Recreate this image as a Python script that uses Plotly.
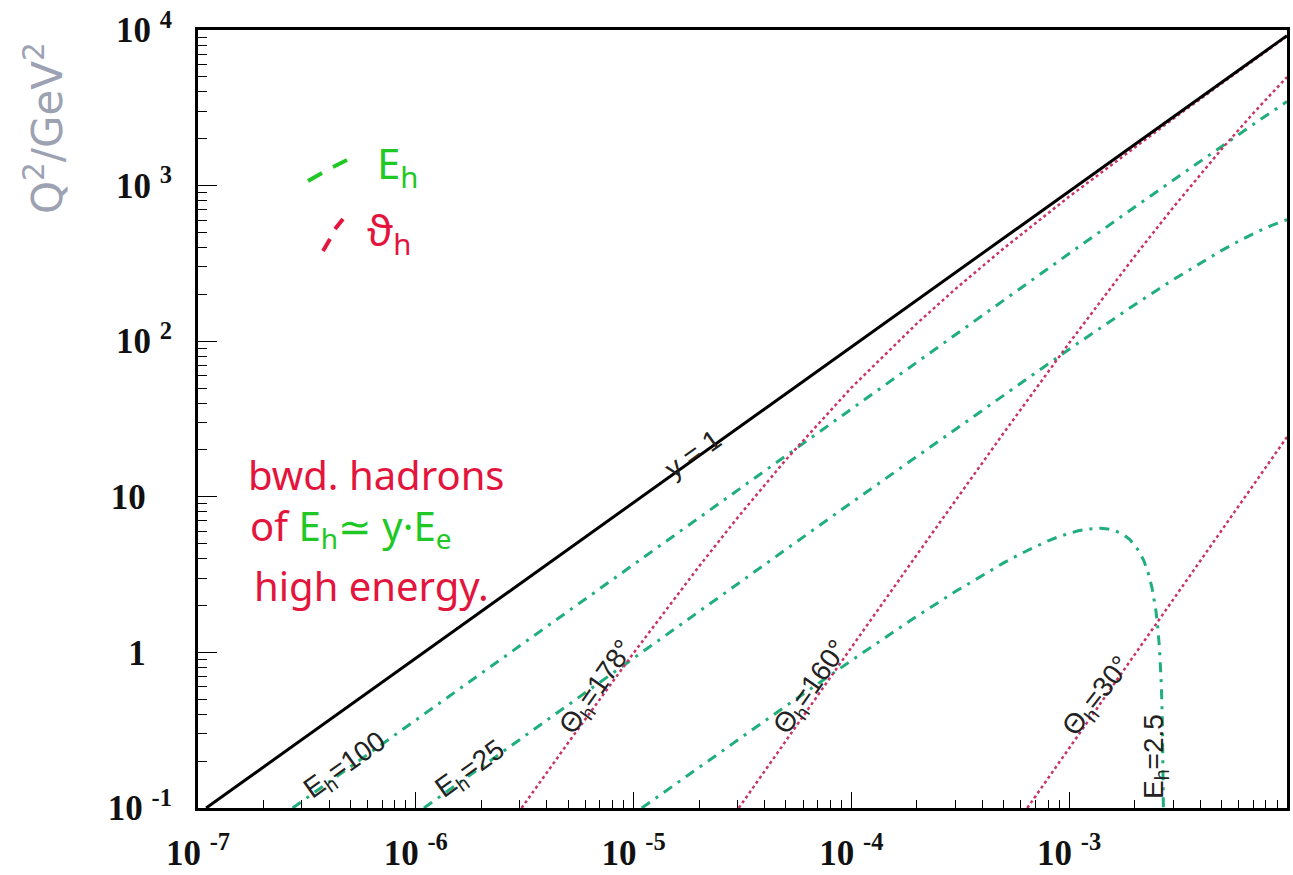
import plotly.graph_objects as go

# ---------------- data ----------------
# y = 1 kinematic limit
y1_x = [1.09e-7, 1e-2]
y1_q2 = [0.1, 9200]

# constant hadron energy curves (green, dash-dot)
eh100_x = [2.72e-7, 1e-6, 1e-5, 1e-4, 1e-3, 2e-3, 3e-3, 5e-3, 7e-3, 1e-2]
eh100_q2 = [0.1, 0.368, 3.68, 36.8, 366, 728, 1086, 1788, 2474, 3469]

eh25_x = [1.09e-6, 1e-5, 1e-4, 1e-3, 2e-3, 3e-3, 4e-3, 5e-3, 6e-3, 7e-3, 8.5e-3, 1e-2]
eh25_q2 = [0.1, 0.92, 9.17, 88.9, 171.7, 248.3, 318.5, 382.4, 439.8, 490.7, 554.7, 603.7]

eh2p5_x = [1.09e-5, 2e-5, 5e-5, 1e-4, 2e-4, 3e-4, 4e-4, 5e-4, 6e-4, 7e-4, 8e-4, 9e-4,
           1.0e-3, 1.1e-3, 1.2e-3, 1.3e-3, 1.4e-3, 1.5e-3, 1.6e-3, 1.7e-3, 1.8e-3, 1.9e-3,
           2.0e-3, 2.1e-3, 2.2e-3, 2.3e-3, 2.4e-3, 2.5e-3, 2.55e-3, 2.6e-3, 2.62e-3, 2.65e-3,
           2.68e-3, 2.69e-3, 2.7e-3, 2.705e-3, 2.7065e-3]
eh2p5_q2 = [0.1, 0.183, 0.452, 0.887, 1.71, 2.46, 3.14, 3.76, 4.31, 4.79, 5.21, 5.56,
            5.84, 6.05, 6.19, 6.27, 6.28, 6.22, 6.09, 5.89, 5.63, 5.30,
            4.89, 4.42, 3.89, 3.28, 2.60, 1.86, 1.46, 1.04, 0.872, 0.611,
            0.343, 0.252, 0.161, 0.115, 0.1]

# constant hadron angle curves (red, dotted)
th178_x = [3.06e-6, 5e-6, 1e-5, 2e-5, 3e-5, 5e-5, 1e-4, 2e-4, 3e-4, 5e-4, 1e-3, 2e-3, 3e-3, 5e-3, 1e-2]
th178_q2 = [0.1, 0.262, 0.991, 3.58, 7.34, 17.3, 50.3, 130.1, 216.3, 394.7, 849.7, 1767, 2686, 4525, 9125]

th160_x = [3.04e-5, 5e-5, 1e-4, 2e-4, 5e-4, 1e-3, 2e-3, 3e-3, 5e-3, 7e-3, 1e-2]
th160_q2 = [0.1, 0.271, 1.076, 4.25, 25.7, 97.4, 352, 723, 1710, 2918, 4987]

th30_x = [6.42e-4, 1e-3, 2e-3, 3e-3, 5e-3, 7e-3, 1e-2]
th30_q2 = [0.1, 0.243, 0.972, 2.19, 6.07, 11.89, 24.24]

# axis ticks
x_tickvals = [1e-7, 1e-6, 1e-5, 1e-4, 1e-3]
x_ticktext = ["10\u00a0<sup>-7</sup>", "10\u00a0<sup>-6</sup>", "10\u00a0<sup>-5</sup>",
              "10\u00a0<sup>-4</sup>", "10\u00a0<sup>-3</sup>"]
y_tickvals = [0.1, 1, 10, 100, 1000, 10000]
y_ticktext = ["10\u00a0<sup>-1</sup>", "1\u00a0\u00a0\u00a0", "10\u00a0\u00a0\u00a0",
              "10\u00a0<sup>2</sup>", "10\u00a0<sup>3</sup>", "10\u00a0<sup>4</sup>"]
x_minor = [m * 10.0 ** e for e in range(-7, -2) for m in range(2, 10)]
y_minor = [m * 10.0 ** e for e in range(-1, 4) for m in range(2, 10)]

# ---------------- styles ----------------
GREEN = "#1fae7c"
RED = "#c93563"
HAND_RED = "#e3153d"
HAND_GREEN = "#20c825"
DASHDOT = "10px,7px,3px,7px"

fig = go.Figure()
for xs, ys in [(eh100_x, eh100_q2), (eh25_x, eh25_q2), (eh2p5_x, eh2p5_q2)]:
    fig.add_trace(go.Scatter(x=xs, y=ys, mode="lines",
                             line=dict(color=GREEN, width=3, dash=DASHDOT),
                             hoverinfo="skip"))
for xs, ys in [(th178_x, th178_q2), (th160_x, th160_q2), (th30_x, th30_q2)]:
    fig.add_trace(go.Scatter(x=xs, y=ys, mode="lines",
                             line=dict(color=RED, width=2.5, dash="dot"),
                             hoverinfo="skip"))
fig.add_trace(go.Scatter(x=y1_x, y=y1_q2, mode="lines",
                         line=dict(color="black", width=3), hoverinfo="skip"))

# plot-area geometry in pixels (for placing text)
L, R, T, B = 198, 1287, 30, 808
W, H = 1293, 875


def px(xp):
    return (xp - L) / (R - L)


def py(yp):
    return (B - yp) / (B - T)


def label(text, xp, yp, angle, size=28, color="#222", family="Liberation Sans",
          xanchor="center", yanchor="middle"):
    fig.add_annotation(text=text, x=px(xp), y=py(yp), xref="paper", yref="paper",
                       showarrow=False, textangle=angle, xanchor=xanchor, yanchor=yanchor,
                       font=dict(size=size, color=color, family=family))


label("y = 1", 692, 454, -35.5)
label("E<sub>h</sub>=100", 345, 766, -35.5)
label("E<sub>h</sub>=25", 470, 770, -35.5)
label("\u0398<sub>h</sub>=178\u00b0", 597, 688, -55)
label("\u0398<sub>h</sub>=160\u00b0", 811, 688, -55)
label("\u0398<sub>h</sub>=30\u00b0", 1097, 697, -52)
label("E<sub>h</sub>=2.5", 1155, 757, -90)

# y-axis title
label("Q<sup>2</sup>/GeV<sup>2</sup>", 44, 128, -90, size=42, color="#9ca2b2",
      family="DejaVu Sans")

# handwritten notes
label("E<sub>h</sub>", 375, 165, 0, size=42, color=HAND_GREEN, family="Noto Sans",
      xanchor="left")
label("\u03d1<sub>h</sub>", 365, 232, 0, size=42, color=HAND_RED, family="Noto Sans",
      xanchor="left")
label("bwd. hadrons", 246, 474, 0, size=40, color=HAND_RED, family="Noto Sans",
      xanchor="left")
label("of <span style='color:%s'>E<sub>h</sub>\u2243 y\u00b7E<sub>e</sub></span>" % HAND_GREEN,
      248, 527, 0, size=40, color=HAND_RED, family="Noto Sans", xanchor="left")
label("high energy.", 252, 585, 0, size=40, color=HAND_RED, family="Noto Sans",
      xanchor="left")

# legend strokes
for (xa, ya, xb, yb), col in [((308, 181, 322, 173), HAND_GREEN), ((333, 167, 347, 160), HAND_GREEN),
                              ((323, 251, 330, 239), HAND_RED), ((335, 229, 343, 219), HAND_RED)]:
    fig.add_shape(type="line", xref="paper", yref="paper",
                  x0=px(xa), y0=py(ya), x1=px(xb), y1=py(yb),
                  line=dict(color=col, width=4))

axis_common = dict(
    type="log", showgrid=False, zeroline=False, automargin=False,
    showline=True, linecolor="black", linewidth=3, mirror=True,
    ticks="inside", tickcolor="black", tickwidth=1.2,
    tickfont=dict(family="Liberation Serif", size=35, color="#111", weight="bold"),
)

fig.update_xaxes(range=[-7, -2], tickmode="array", tickvals=x_tickvals, ticktext=x_ticktext,
                 ticklen=16, ticklabelstandoff=12,
                 minor=dict(ticks="inside", ticklen=8, tickwidth=1, tickcolor="black",
                            tickvals=x_minor, showgrid=False),
                 **axis_common)
fig.update_yaxes(range=[-1, 4], tickmode="array", tickvals=y_tickvals, ticktext=y_ticktext,
                 ticklen=19, ticklabelstandoff=16,
                 minor=dict(ticks="inside", ticklen=9, tickwidth=1, tickcolor="black",
                            tickvals=y_minor, showgrid=False),
                 **axis_common)

fig.update_layout(
    width=W, height=H,
    margin=dict(l=L, r=W - R, t=T, b=H - B, pad=0, autoexpand=False),
    paper_bgcolor="white", plot_bgcolor="white",
    showlegend=False,
)

fig.write_html("out.html")
